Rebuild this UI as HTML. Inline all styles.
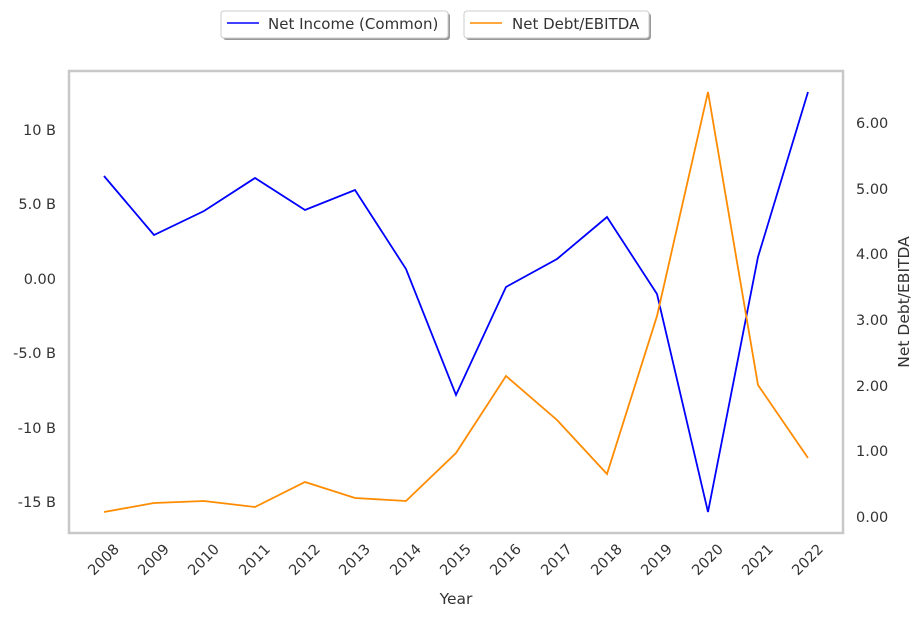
<!DOCTYPE html>
<html><head><meta charset="utf-8"><style>
html,body{margin:0;padding:0;background:#fff;}
svg{display:block;font-family:"DejaVu Sans","Liberation Sans",sans-serif;}
</style></head><body>
<svg width="923" height="618" viewBox="0 0 923 618" xmlns="http://www.w3.org/2000/svg">
<rect width="923" height="618" fill="#fff"/>
<rect x="223" y="13" width="227" height="27" rx="3" fill="#999"/>
<rect x="221" y="11" width="227" height="27" rx="3" fill="#fff" stroke="#ccc"/>
<line x1="227" y1="23" x2="259" y2="23" stroke="#0000ff" stroke-width="1.5"/>
<text x="268" y="29" font-size="15" fill="#333">Net Income (Common)</text>
<rect x="466" y="13" width="185" height="27" rx="3" fill="#999"/>
<rect x="464" y="11" width="185" height="27" rx="3" fill="#fff" stroke="#ccc"/>
<line x1="470" y1="23" x2="502" y2="23" stroke="#ff8c00" stroke-width="1.5"/>
<text x="512" y="29" font-size="15" fill="#333">Net Debt/EBITDA</text>
<rect x="69" y="71" width="774" height="462" fill="none" stroke="#c8c8c8" stroke-width="2.5"/>
<g font-size="14.5" fill="#333" text-anchor="end">
<text x="56" y="135">10 B</text>
<text x="56" y="209">5.0 B</text>
<text x="56" y="284">0.00</text>
<text x="56" y="358">-5.0 B</text>
<text x="56" y="433">-10 B</text>
<text x="56" y="507">-15 B</text>
</g>
<g font-size="14.5" fill="#333" text-anchor="start">
<text x="856" y="128">6.00</text>
<text x="856" y="194">5.00</text>
<text x="856" y="259">4.00</text>
<text x="856" y="325">3.00</text>
<text x="856" y="391">2.00</text>
<text x="856" y="456">1.00</text>
<text x="856" y="522">0.00</text>
</g>
<text transform="translate(909,302) rotate(-90)" font-size="15.5" fill="#333" text-anchor="middle">Net Debt/EBITDA</text>
<text x="456" y="604" font-size="15.5" fill="#333" text-anchor="middle">Year</text>
<g font-size="14.5" fill="#333" text-anchor="end">
<text transform="translate(120,550) rotate(-45)">2008</text>
<text transform="translate(170,550) rotate(-45)">2009</text>
<text transform="translate(220,550) rotate(-45)">2010</text>
<text transform="translate(271,550) rotate(-45)">2011</text>
<text transform="translate(321,550) rotate(-45)">2012</text>
<text transform="translate(371,550) rotate(-45)">2013</text>
<text transform="translate(422,550) rotate(-45)">2014</text>
<text transform="translate(472,550) rotate(-45)">2015</text>
<text transform="translate(522,550) rotate(-45)">2016</text>
<text transform="translate(573,550) rotate(-45)">2017</text>
<text transform="translate(623,550) rotate(-45)">2018</text>
<text transform="translate(673,550) rotate(-45)">2019</text>
<text transform="translate(724,550) rotate(-45)">2020</text>
<text transform="translate(774,550) rotate(-45)">2021</text>
<text transform="translate(824,550) rotate(-45)">2022</text>
</g>
<polyline fill="none" stroke="#0000ff" stroke-width="1.8" points="104,176 154,235 204,211 255,178 305,210 355,190 406,269 456,395 506,287 557,259 607,217 657,294 708,512 758,257 808,92"/>
<polyline fill="none" stroke="#ff8c00" stroke-width="1.8" points="104,512 154,503 204,501 255,507 305,482 355,498 406,501 456,453 506,376 557,420 607,474 657,316 708,92 758,385 808,458"/>
</svg>
</body></html>
